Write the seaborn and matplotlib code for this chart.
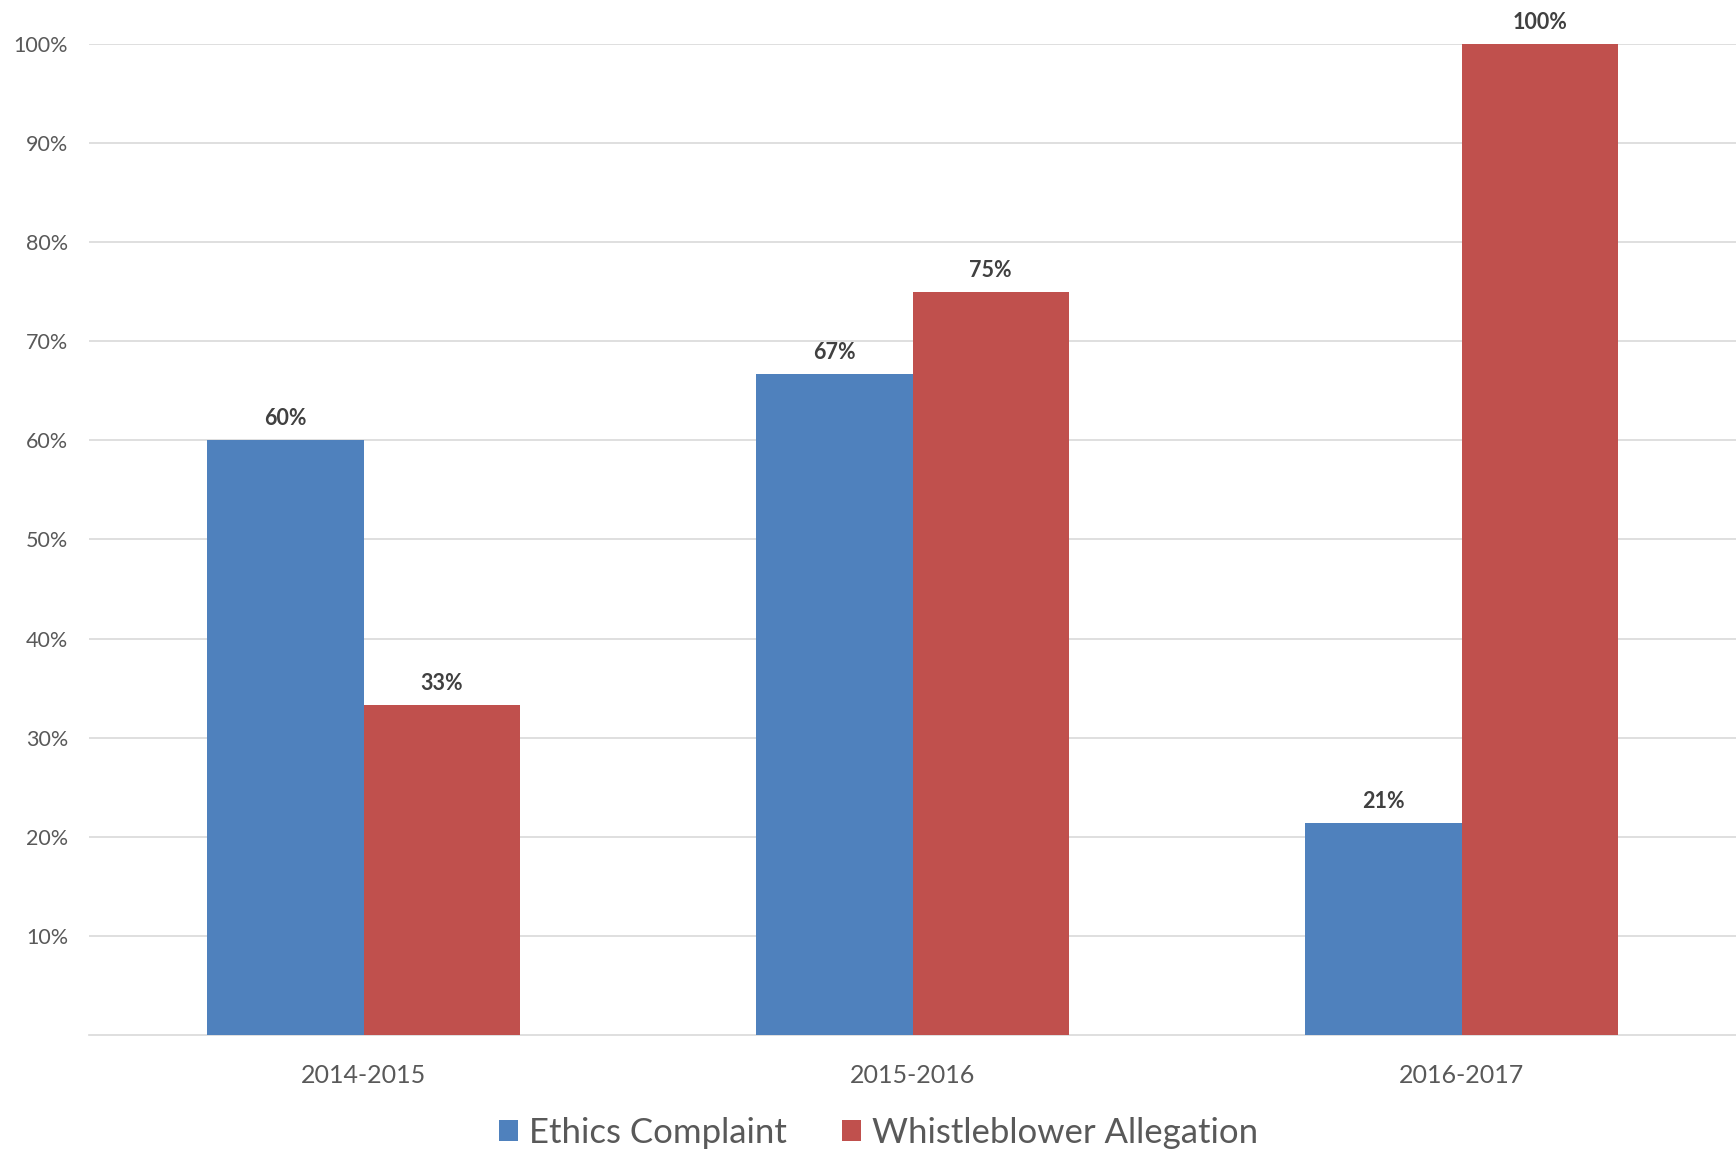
import pandas as pd
import seaborn as sns
import matplotlib.pyplot as plt

# dados
anos = ['2014-2015', '2015-2016', '2016-2017']
ethics = [60.0, 66.7, 21.4]
whistle = [33.3, 75.0, 100.0]
series = ['Ethics Complaint', 'Whistleblower Allegation']
cores = ['#4F81BD', '#C0504D']

dados = pd.DataFrame({
    'ano': anos * 2,
    'tipo': [series[0]] * 3 + [series[1]] * 3,
    'valor': ethics + whistle,
})

sns.set_theme(style='white')
plt.rcParams['font.family'] = ['Lato', 'DejaVu Sans']

fig = plt.figure(figsize=(17.36, 11.54), dpi=100)
ax = fig.add_axes([0.0513, 0.1031, 0.9487, 0.8588])

sns.barplot(data=dados, x='ano', y='valor', hue='tipo', palette=cores,
            width=0.57, gap=0, saturation=1, linewidth=0, ax=ax, zorder=3)

for c in ax.containers:
    ax.bar_label(c, fmt='{:.0f}%', padding=8, fontsize=15.5, fontweight='bold',
                 color='#404040', clip_on=False)

ax.set_xlim(-0.5, 2.5)
ax.set_ylim(0, 100)
ax.set_yticks(range(10, 101, 10))
ax.set_yticklabels([f'{v}%' for v in range(10, 101, 10)])
ax.yaxis.grid(True, color='#D9D9D9', linewidth=1.2, zorder=0)
ax.set_axisbelow(True)
ax.tick_params(axis='y', labelsize=15.5, labelcolor='#595959', length=0, pad=15)
ax.tick_params(axis='x', labelsize=18, labelcolor='#595959', length=0, pad=21)
ax.set_xlabel('')
ax.set_ylabel('')
for s in ['top', 'right', 'left']:
    ax.spines[s].set_visible(False)
ax.spines['bottom'].set_color('#D9D9D9')
ax.spines['bottom'].set_linewidth(1.2)

handles, labels = ax.get_legend_handles_labels()
ax.legend_.remove()
fig.legend(handles, labels, loc='center', bbox_to_anchor=(0.506, 1 - 1133 / 1154),
           ncol=2, frameon=False, fontsize=25, labelcolor='#595959',
           handlelength=0.55, handleheight=0.55, handletextpad=0.3, columnspacing=1.6)

fig.savefig('out.png', dpi=100)
